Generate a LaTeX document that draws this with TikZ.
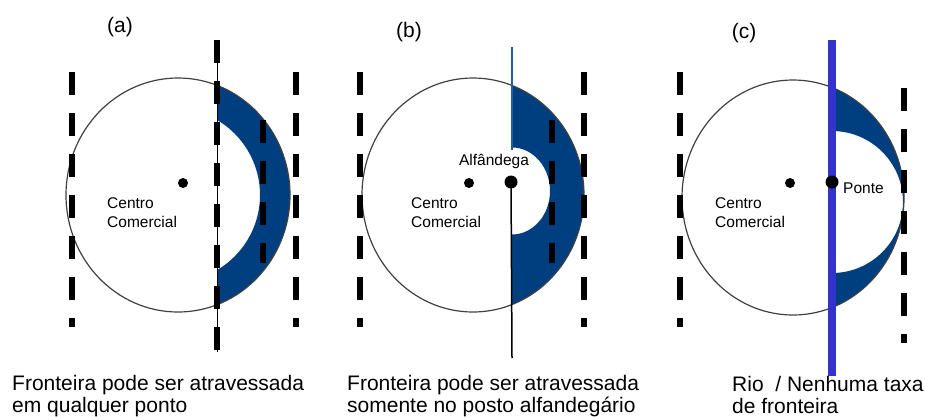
\documentclass[tikz,border=0pt]{standalone}
\usepackage{fontspec}
\setmainfont{Liberation Sans}
\definecolor{zonablue}{RGB}{0,63,127}
\definecolor{rioblue}{RGB}{51,51,204}
\definecolor{postoblue}{RGB}{32,96,160}

\begin{document}
\begin{tikzpicture}[
  x=1pt, y=-1pt,
  city/.style={draw=black!75, line width=1.2pt},
  zone/.style={fill=zonablue, even odd rule},
  frontier/.style={line width=6pt, dash pattern=on 23pt off 18pt},
  ccdot/.style={circle, fill=black, inner sep=0pt, minimum size=10pt},
  bigdot/.style={circle, fill=black, inner sep=0pt, minimum size=13pt},
  panel/.style={inner sep=0pt, font=\fontsize{21}{22}\selectfont},
  cctext/.style={inner sep=0pt, anchor=north west, align=left, font=\fontsize{15.5}{19}\selectfont},
  notes/.style={panel, anchor=north west, align=left},
]
\useasboundingbox (0,0) rectangle (925,416);

% (a)
\begin{scope}
  \clip (217,0) rectangle (320,416);
  \fill[zone] (178,195) ellipse [x radius=112pt, y radius=117pt]
              (173,195) circle [radius=87pt];
\end{scope}
\draw[city] (178,195) ellipse [x radius=112pt, y radius=117pt];
\draw[line width=1pt] (217,40) -- (217,352);
\draw[frontier] (72,72) -- (72,327);
\draw[frontier] (217,40) -- (217,352);
\draw[frontier] (296,72) -- (296,327);
\draw[frontier] (263,120) -- (263,263);
\node[panel] (labA) at (120,27.5) {(a)};
\node[ccdot] (ccA) at (183,183) {};
\node[cctext] (ccAtxt) at (107,197) {Centro\\Comercial};

% (b)
\begin{scope}
  \clip (512,0) rectangle (620,416);
  \fill[zone] (473,195) ellipse [x radius=111pt, y radius=117pt]
              (512,191) ellipse [x radius=38pt, y radius=43.5pt];
\end{scope}
\draw[city] (473,195) ellipse [x radius=111pt, y radius=117pt];
\draw[frontier] (360,72) -- (360,327);
\draw[frontier] (584,72) -- (584,327);
\draw[frontier] (552,120) -- (552,263);
\coordinate (postoN) at (512,47);
\coordinate (postoE) at (512,150);
\coordinate (postoS) at (512,358);
\node[panel] (labB) at (409,32) {(b)};
\node[ccdot] (ccB) at (469,183) {};
\node[bigdot] (alf) at (511,182) {};
\draw[postoblue, line width=1.5pt] (postoN) -- (postoE);
\draw[line width=1.5pt] (alf.center) -- (postoS);
\node[inner sep=0pt, anchor=base, font=\fontsize{15.5}{19}\selectfont] (alfTxt) at (494,165) {Alfândega};
\node[cctext] (ccBtxt) at (411,197) {Centro\\Comercial};

% (c)
\begin{scope}
  \clip (832,0) rectangle (925,416);
  \fill[zone] (793,197.5) ellipse [x radius=111pt, y radius=117.5pt]
              (832,202) circle [radius=71pt];
\end{scope}
\draw[city] (793,197.5) ellipse [x radius=111pt, y radius=117.5pt];
\draw[frontier] (680,72) -- (680,327);
\draw[frontier] (904,88) -- (904,343);
\coordinate (rioN) at (832,40);
\coordinate (rioS) at (832,376);
\draw[rioblue, line width=8pt] (rioN) -- (rioS);
\node[panel] (labC) at (744,33) {(c)};
\node[ccdot] (ccC) at (790,183) {};
\node[bigdot] (ponte) at (832,182) {};
\node[inner sep=0pt, anchor=base west, font=\fontsize{15.5}{19}\selectfont] (ponteTxt) at (843,193) {Ponte};
\node[cctext] (ccCtxt) at (715,197) {Centro\\Comercial};

\node[notes] (notaA) at (12,375) {Fronteira pode ser atravessada\\em qualquer ponto};
\node[notes] (notaB) at (347,375) {Fronteira pode ser atravessada\\somente no posto alfandegário};
\node[notes] (notaC) at (732,376) {Rio\ \ / Nenhuma taxa\\de fronteira};
\end{tikzpicture}
\end{document}
